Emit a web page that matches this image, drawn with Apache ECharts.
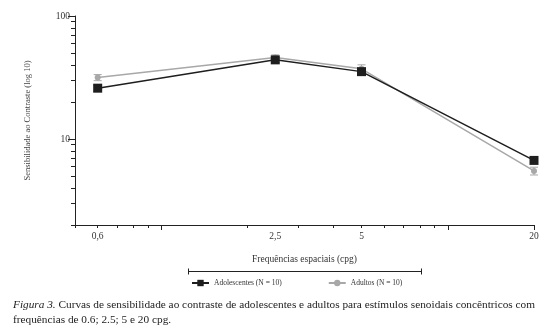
<!DOCTYPE html>
<html>
<head>
<meta charset="utf-8">
<script src="https://cdn.jsdelivr.net/npm/echarts@6/dist/echarts.min.js"></script>
<style>
  html, body { margin: 0; padding: 0; background: #fff; }
  #chart { width: 557px; height: 336px; }
</style>
</head>
<body>
<div id="chart"></div>
<script>
// frequências espaciais (cpg)
var freqs = [0.6, 2.5, 5, 20];
var freqLabels = ['0,6', '2,5', '5', '20'];

// sensibilidade ao contraste, média e erro
var adolMean = [25.9, 44, 35.3, 6.7];
var adolErr = [1.5, 2, 2, 0.3];
var adultMean = [31.6, 46, 37.2, 5.5];
var adultErr = [1.8, 2.3, 2.9, 0.4];

// marcas dos eixos
var xMinorTicks = [0.5, 0.6, 0.7, 0.8, 0.9, 2, 3, 4, 5, 6, 7, 8, 9, 20];
var xMajorTicks = [1, 10, 20];
var yMinorTicks = [2, 3, 4, 5, 6, 7, 8, 9, 20, 30, 40, 50, 60, 70, 80, 90];
var yMajorTicks = [10, 100];
var yLabels = [10, 100];

var font = '"Liberation Serif", "DejaVu Serif", serif';

function pairs(xs, ys) {
    return xs.map(function (x, i) { return [x, ys[i]]; });
}
function errData(xs, ys, es) {
    return xs.map(function (x, i) { return [x, ys[i] - es[i], ys[i] + es[i]]; });
}
function errBar(color) {
    return function (params, api) {
        var lo = api.coord([api.value(0), api.value(1)]);
        var hi = api.coord([api.value(0), api.value(2)]);
        var w = 4;
        var style = { stroke: color, lineWidth: 1 };
        return {
            type: 'group',
            children: [
                { type: 'line', shape: { x1: lo[0], y1: lo[1], x2: hi[0], y2: hi[1] }, style: style },
                { type: 'line', shape: { x1: lo[0] - w, y1: lo[1], x2: lo[0] + w, y2: lo[1] }, style: style },
                { type: 'line', shape: { x1: hi[0] - w, y1: hi[1], x2: hi[0] + w, y2: hi[1] }, style: style }
            ]
        };
    };
}

var chart = echarts.init(document.getElementById('chart'));

var option = {
    animation: false,
    backgroundColor: '#fff',
    textStyle: { fontFamily: font },
    title: {
        left: 8,
        top: 293,
        text: '{i|Figura 3.} Curvas de sensibilidade ao contraste de adolescentes e adultos para estímulos senoidais concêntricos com\nfrequências de 0.6; 2.5; 5 e 20 cpg.',
        textStyle: {
            fontFamily: font,
            fontSize: 11.3,
            fontWeight: 'normal',
            color: '#222',
            lineHeight: 15,
            rich: { i: { fontStyle: 'italic', fontFamily: font, fontSize: 11.3, color: '#222' } }
        }
    },
    legend: {
        left: 186,
        top: 274,
        itemGap: 46,
        itemWidth: 17,
        itemHeight: 8,
        textStyle: { fontFamily: font, fontSize: 7.5, color: '#333' },
        data: ['Adolescentes (N = 10)', 'Adultos (N = 10)']
    },
    graphic: [{
        type: 'group',
        left: 186,
        top: 266,
        children: [
            { type: 'line', shape: { x1: 0, y1: 3, x2: 233, y2: 3 }, style: { stroke: '#222', lineWidth: 1 } },
            { type: 'line', shape: { x1: 0, y1: 0, x2: 0, y2: 6 }, style: { stroke: '#222', lineWidth: 1 } },
            { type: 'line', shape: { x1: 233, y1: 0, x2: 233, y2: 6 }, style: { stroke: '#222', lineWidth: 1 } }
        ]
    }],
    grid: { left: 75, right: 23, top: 16, bottom: 111 },
    xAxis: [{
        type: 'log',
        logBase: 10,
        min: 0.5,
        max: 20,
        name: 'Frequências espaciais (cpg)',
        nameLocation: 'middle',
        nameGap: 29,
        nameTextStyle: { fontFamily: font, fontSize: 9.5, color: '#333' },
        axisLine: { lineStyle: { color: '#222', width: 1 } },
        axisTick: { customValues: xMinorTicks, length: 3, lineStyle: { color: '#222' } },
        axisLabel: {
            customValues: freqs,
            margin: 6,
            fontFamily: font,
            fontSize: 9.5,
            color: '#333',
            formatter: function (v) {
                var i = freqs.indexOf(+v);
                return i >= 0 ? freqLabels[i] : '';
            }
        },
        splitLine: { show: false }
    }, {
        type: 'log',
        logBase: 10,
        min: 0.5,
        max: 20,
        position: 'bottom',
        axisLine: { show: false },
        axisTick: { customValues: xMajorTicks, length: 5, lineStyle: { color: '#222' } },
        axisLabel: { show: false },
        splitLine: { show: false }
    }],
    yAxis: [{
        type: 'log',
        logBase: 10,
        min: 2,
        max: 100,
        name: 'Sensibilidade ao Contraste (log 10)',
        nameLocation: 'middle',
        nameRotate: 90,
        nameGap: 43,
        nameTextStyle: { fontFamily: font, fontSize: 8.5, color: '#444' },
        axisLine: { show: true, lineStyle: { color: '#222', width: 1 } },
        axisTick: { show: true, customValues: yMinorTicks, length: 4, lineStyle: { color: '#222' } },
        axisLabel: {
            customValues: yLabels,
            margin: 5,
            fontFamily: font,
            fontSize: 9.5,
            color: '#333'
        },
        splitLine: { show: false }
    }, {
        type: 'log',
        logBase: 10,
        min: 2,
        max: 100,
        position: 'left',
        offset: 0,
        axisLine: { show: false },
        axisTick: { show: true, customValues: yMajorTicks, length: 7, lineStyle: { color: '#222' } },
        axisLabel: { show: false },
        splitLine: { show: false }
    }],
    series: [{
        name: 'Adultos (N = 10)',
        type: 'line',
        data: pairs(freqs, adultMean),
        symbol: 'circle',
        symbolSize: 6,
        color: '#a8a8a8',
        lineStyle: { color: '#a8a8a8', width: 1.5 },
        itemStyle: { color: '#a8a8a8' },
        z: 2
    }, {
        name: 'Adultos (N = 10)',
        type: 'custom',
        data: errData(freqs, adultMean, adultErr),
        renderItem: errBar('#a8a8a8'),
        z: 2
    }, {
        name: 'Adolescentes (N = 10)',
        type: 'line',
        data: pairs(freqs, adolMean),
        symbol: 'rect',
        symbolSize: 9,
        color: '#1e1e1e',
        lineStyle: { color: '#1e1e1e', width: 1.5 },
        itemStyle: { color: '#1e1e1e' },
        z: 3
    }, {
        name: 'Adolescentes (N = 10)',
        type: 'custom',
        data: errData(freqs, adolMean, adolErr),
        renderItem: errBar('#1e1e1e'),
        z: 3
    }]
};

chart.setOption(option);
</script>
</body>
</html>
